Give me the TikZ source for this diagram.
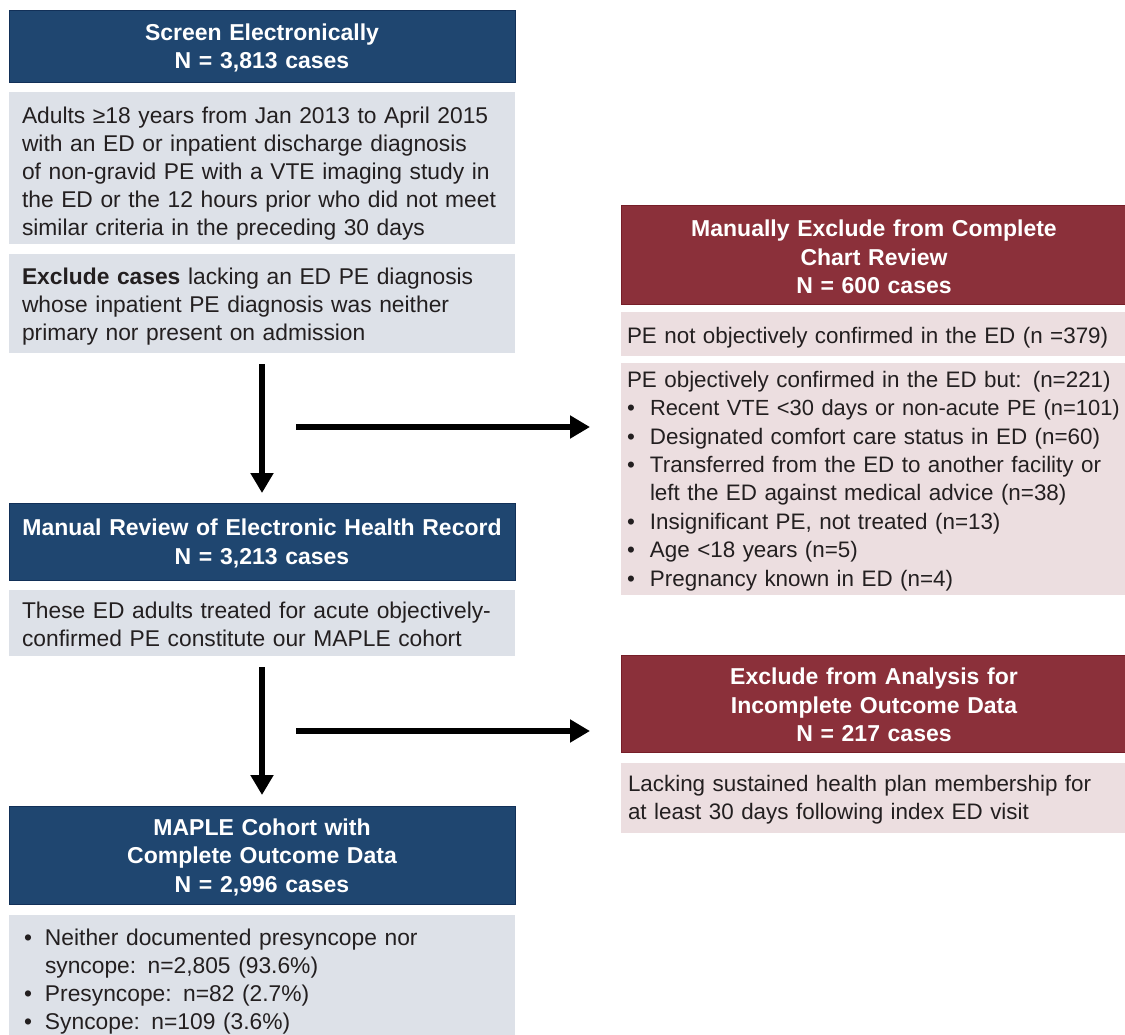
\documentclass[tikz,border=0pt]{standalone}
\usepackage{fontspec}
\setmainfont{Liberation Sans}
\usetikzlibrary{arrows.meta}
\definecolor{hblue}{RGB}{31,70,112}
\definecolor{hblueb}{RGB}{18,48,88}
\definecolor{hred}{RGB}{139,48,58}
\definecolor{hredb}{RGB}{118,30,40}
\definecolor{lgray}{RGB}{221,225,232}
\definecolor{lpink}{RGB}{236,222,224}
\definecolor{txt}{RGB}{35,31,32}
\newcommand{\fs}{\fontsize{22.8}{28.1}\selectfont}
\newcommand{\fsh}{\fontsize{23}{28.4}\selectfont}
\newcommand{\fsr}{\fontsize{22.4}{28.4}\selectfont}
\newcommand{\bl}[1][23pt]{\makebox[#1][l]{•}}
\newcommand{\tb}[3][-3pt]{\raisebox{#1}[\height][\depth]{\begin{tabular}{@{}#2@{}}#3\end{tabular}}}
\begin{document}
\begin{tikzpicture}[x=1pt,y=-1pt,
  base/.style={anchor=north west, outer sep=0pt, inner ysep=0pt, font=\fs},
  hdrB/.style={base, fill=hblue, draw=hblueb, line width=0.8pt, text=white, font=\fsh\bfseries, align=center, inner xsep=0pt, text width=506pt},
  hdrR/.style={base, fill=hred, draw=hredb, line width=0.8pt, text=white, font=\fsh\bfseries, align=center, inner xsep=0pt, text width=506pt},
  grayL/.style={base, fill=lgray, text=txt, align=left, inner xsep=13pt, text width=480pt},
  pinkR/.style={base, fill=lpink, text=txt, font=\fsr, align=left, inner xsep=6pt, text width=502pt},
  arr/.style={line width=6.5pt, -{Triangle[width=22pt,length=20pt]}}
]
\useasboundingbox (0,0) rectangle (1125,1034);
\clip (0,0) rectangle (1125,1034);

% left column
\node[hdrB, minimum height=72pt] (b1) at (9,10)
  {\tb{c}{Screen Electronically\\N = 3,813 cases}};
\node[grayL, minimum height=152pt] (g1) at (9,92)
  {\tb[-6pt]{l}{Adults ≥18 years from Jan 2013 to April 2015\\
   with an ED or inpatient discharge diagnosis\\
   of non-gravid PE with a VTE imaging study in\\
   the ED or the 12 hours prior who did not meet\\
   similar criteria in the preceding 30 days}};
\node[grayL, minimum height=99pt] (g2) at (9,254)
  {\tb{l}{\textbf{Exclude cases} lacking an ED PE diagnosis\\
   whose inpatient PE diagnosis was neither\\
   primary nor present on admission}};
\node[hdrB, minimum height=77pt] (b2) at (9,503)
  {\tb{c}{Manual Review of Electronic Health Record\\N = 3,213 cases}};
\node[grayL, minimum height=66pt] (g3) at (9,590)
  {\tb[-4pt]{l}{These ED adults treated for acute objectively-\\
   confirmed PE constitute our MAPLE cohort}};
\node[hdrB, minimum height=98pt] (b3) at (9,806)
  {\tb{c}{MAPLE Cohort with\\Complete Outcome Data\\N = 2,996 cases}};
\node[grayL, inner xsep=15pt, text width=476pt, minimum height=128pt] (g4) at (9,915)
  {\tb{l}{\bl[21pt]Neither documented presyncope nor\\
   \hspace*{21pt}syncope: n=2,805 (93.6\%)\\
   \bl[21pt]Presyncope: n=82 (2.7\%)\\
   \bl[21pt]Syncope: n=109 (3.6\%)}};

% right column
\node[hdrR, minimum height=99pt] (r1) at (621,205)
  {\tb[-5pt]{c}{Manually Exclude from Complete\\Chart Review\\N = 600 cases}};
\node[pinkR, minimum height=44pt] (p1) at (621,312)
  {\tb[-4pt]{l}{PE not objectively confirmed in the ED (n =379)}};
\node[pinkR, minimum height=232pt] (p2) at (621,363)
  {\tb[-2pt]{l}{PE objectively confirmed in the ED but: (n=221)\\
   \bl {\fontsize{21.9}{28.4}\selectfont Recent VTE <30 days or non-acute PE (n=101)}\\
   \bl Designated comfort care status in ED (n=60)\\
   \bl Transferred from the ED to another facility or\\
   \hspace*{23pt}left the ED against medical advice (n=38)\\
   \bl Insignificant PE, not treated (n=13)\\
   \bl Age <18 years (n=5)\\
   \bl Pregnancy known in ED (n=4)}};
\node[hdrR, minimum height=97pt] (r2) at (621,655)
  {\tb[-4pt]{c}{Exclude from Analysis for\\Incomplete Outcome Data\\N = 217 cases}};
\node[pinkR, inner xsep=7pt, text width=500pt, minimum height=70pt] (p3) at (621,763)
  {\tb[-2pt]{l}{Lacking sustained health plan membership for\\
   at least 30 days following index ED visit}};

% arrows
\draw[arr, shorten <=11pt, shorten >=10pt] (g2) -- (b2);
\draw[arr, shorten <=11pt, shorten >=11pt] (g3) -- (b3);
\coordinate (a1) at (296,427);
\coordinate (a2) at (296,731);
\draw[arr, shorten >=31pt] (a1) -- (a1 -| p2.west);
\draw[arr, shorten >=31pt] (a2) -- (a2 -| r2.west);
\end{tikzpicture}
\end{document}
